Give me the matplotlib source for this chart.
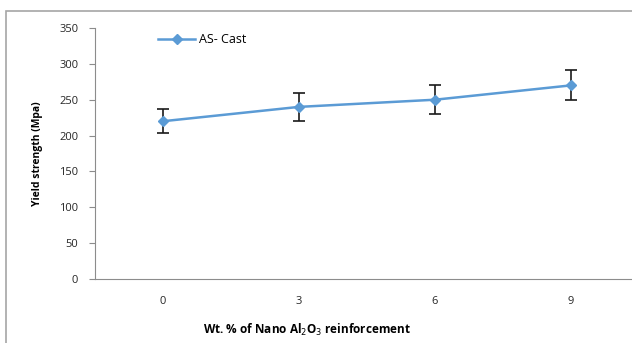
import matplotlib.pyplot as plt
from matplotlib.patches import Rectangle
from matplotlib.lines import Line2D

# yield strength vs nano Al2O3 content
categories = ["0", "3", "6", "9"]
strength = [220, 240, 250, 270]
err = [17, 19, 20, 21]

plt.rcParams['font.family'] = ['Open Sans', 'DejaVu Sans']

blue = '#5b9bd5'
fig = plt.figure(figsize=(6.32, 3.43), dpi=100)
fig.patches.append(Rectangle((6 / 632, -0.05), 1.2, 1 - 11 / 343 + 0.05,
                             transform=fig.transFigure, fill=False,
                             edgecolor='#a6a6a6', linewidth=1.2))

ax = fig.add_axes([95 / 632, 64 / 343, 544 / 632, 251 / 343])
x = range(len(categories))
ax.errorbar(x, strength, yerr=err, color=blue, marker='D', markersize=5,
            linewidth=1.8, ecolor='#1a1a1a', elinewidth=1.2, capsize=4,
            capthick=1.2, zorder=3)

ax.set_xlim(-0.5, 3.5)
ax.set_ylim(0, 350)
ax.set_yticks(range(0, 351, 50))
ax.set_xticks(list(x))
ax.set_xticklabels(categories)
for s in ['top', 'right']:
    ax.spines[s].set_visible(False)
for s in ['left', 'bottom']:
    ax.spines[s].set_color('#8c8c8c')
ax.tick_params(axis='y', length=4, color='#8c8c8c', labelsize=8, pad=8,
               labelcolor='#262626')
ax.tick_params(axis='x', length=0, labelsize=8, pad=12, labelcolor='#262626')

ax.set_ylabel('Yield strength (Mpa)', fontsize=7.5, fontweight='bold', labelpad=12)
ax.set_xlabel('Wt. % of Nano Al$_2$O$_3$ reinforcement', fontsize=8.5,
              fontweight='bold', labelpad=10)
ax.xaxis.set_label_coords(0.39, -0.17)

handle = Line2D([], [], color=blue, marker='D', markersize=5, linewidth=1.8)
ax.legend([handle], ['AS- Cast'], loc='upper left', bbox_to_anchor=(0.095, 1.025),
          frameon=False, fontsize=9, handlelength=3.0, handletextpad=0.3)

fig.savefig('out.png', dpi=100)
